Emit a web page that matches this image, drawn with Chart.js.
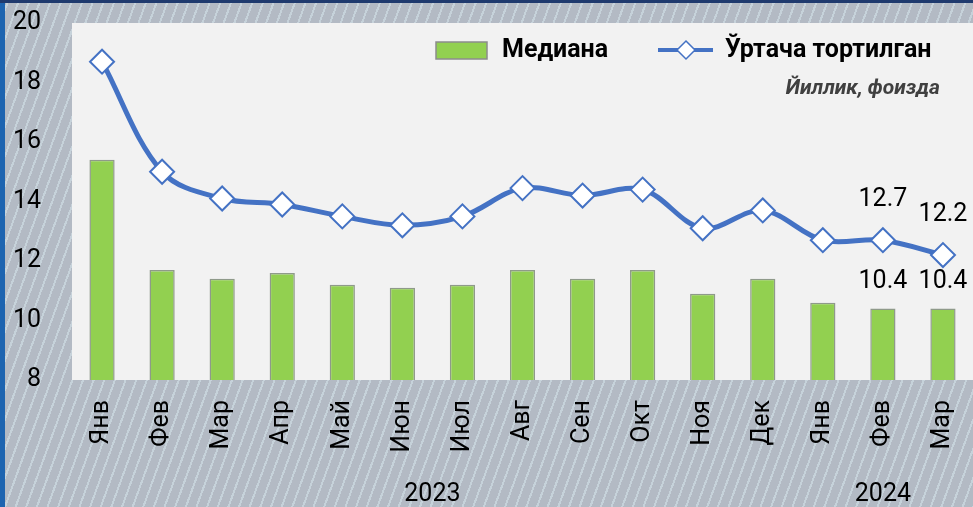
<!DOCTYPE html>
<html>
<head>
<meta charset="utf-8">
<script src="https://cdn.jsdelivr.net/npm/chart.js@4.4.1/dist/chart.umd.min.js"></script>
<style>
  html, body { margin: 0; padding: 0; }
  body {
    width: 973px; height: 507px; overflow: hidden; position: relative;
    background:
      linear-gradient(to bottom, #1f3a6e 0 3px, transparent 3px),
      linear-gradient(to right, #1d64b0 0 5px, transparent 5px),
      repeating-linear-gradient(110deg, #b3bac4 0 7px, #c6d2da 7px 9px, #b3bac4 9px 10px);
  }
  #wrap { position: absolute; left: 0; top: 0; width: 973px; height: 507px; }
</style>
</head>
<body>
<div id="wrap"><canvas id="c" width="973" height="507"></canvas></div>
<script>
const categories = ['Янв','Фев','Мар','Апр','Май','Июн','Июл','Авг','Сен','Окт','Ноя','Дек','Янв','Фев','Мар'];
const years = [
  { label: '2023', from: 0, to: 11 },
  { label: '2024', from: 12, to: 14 }
];
const medianValues = [15.4, 11.7, 11.4, 11.6, 11.2, 11.1, 11.2, 11.7, 11.4, 11.7, 10.9, 11.4, 10.6, 10.4, 10.4];
const weightedValues = [18.7, 15.0, 14.1, 13.9, 13.5, 13.2, 13.5, 14.45, 14.2, 14.4, 13.1, 13.7, 12.7, 12.7, 12.2];
const yTicks = { min: 8, max: 20, step: 2 };
const labeledIndexes = [13, 14];
const seriesNames = ['Медиана', 'Ўртача тортилган'];
const subtitle = 'Йиллик, фоизда';

const FONT = 'Roboto, "Liberation Sans", sans-serif';
const GREEN = '#92d050';
const BLUE = '#4472c4';

function zeroPad(s) { s.paddingLeft = 0; s.paddingRight = 0; s.paddingTop = 0; s.paddingBottom = 0; }

const plotBg = {
  id: 'plotBg',
  beforeDraw(chart) {
    const { ctx, chartArea: a } = chart;
    ctx.save();
    ctx.fillStyle = '#f2f2f2';
    ctx.fillRect(a.left, a.top, a.right - a.left, a.bottom - a.top);
    ctx.restore();
  }
};

const extras = {
  id: 'extras',
  afterDraw(chart) {
    const { ctx, chartArea: a } = chart;
    const xs = chart.scales.x;
    ctx.save();
    // year labels
    ctx.fillStyle = '#000';
    ctx.font = '25px ' + FONT;
    ctx.textAlign = 'center';
    ctx.textBaseline = 'middle';
    years.forEach(y => {
      const cx = (xs.getPixelForValue(y.from) + xs.getPixelForValue(y.to)) / 2;
      ctx.fillText(y.label, cx, 495);
    });
    // data labels
    const barMeta = chart.getDatasetMeta(0);
    const lineMeta = chart.getDatasetMeta(1);
    labeledIndexes.forEach(i => {
      const p = lineMeta.data[i];
      ctx.fillText(weightedValues[i].toFixed(1), p.x, p.y - 40);
      const b = barMeta.data[i];
      ctx.fillText(medianValues[i].toFixed(1), b.x, b.y - 27);
    });
    // legend
    const ly = a.top + 27;
    const lx = a.left + 364;
    ctx.fillStyle = GREEN;
    ctx.strokeStyle = '#8c8c8c';
    ctx.lineWidth = 1.5;
    ctx.fillRect(lx, ly - 8, 51, 17);
    ctx.strokeRect(lx, ly - 8, 51, 17);
    ctx.fillStyle = '#000';
    ctx.font = 'bold 25px ' + FONT;
    ctx.textAlign = 'left';
    ctx.fillText(seriesNames[0], lx + 66, ly + 1);
    const l2 = lx + 222;
    ctx.strokeStyle = BLUE;
    ctx.lineWidth = 4;
    ctx.beginPath();
    ctx.moveTo(l2, ly); ctx.lineTo(l2 + 55, ly);
    ctx.stroke();
    ctx.fillStyle = '#fff';
    ctx.lineWidth = 1.5;
    ctx.beginPath();
    const r = 9, dx = l2 + 28;
    ctx.moveTo(dx, ly - r); ctx.lineTo(dx + r, ly); ctx.lineTo(dx, ly + r); ctx.lineTo(dx - r, ly); ctx.closePath();
    ctx.fill(); ctx.stroke();
    ctx.fillStyle = '#000';
    ctx.fillText(seriesNames[1], l2 + 67, ly + 1);
    // subtitle
    ctx.fillStyle = '#404040';
    ctx.font = 'italic bold 21px ' + FONT;
    ctx.textAlign = 'right';
    ctx.fillText(subtitle, a.right - 33, ly + 39);
    ctx.restore();
  }
};

new Chart(document.getElementById('c'), {
  data: {
    labels: categories,
    datasets: [
      {
        type: 'bar',
        label: seriesNames[0],
        data: medianValues,
        backgroundColor: GREEN,
        borderColor: '#8f9a8a',
        borderWidth: 1.5,
        categoryPercentage: 1,
        barPercentage: 0.42,
        order: 2
      },
      {
        type: 'line',
        label: seriesNames[1],
        data: weightedValues,
        borderColor: BLUE,
        borderWidth: 5,
        tension: 0.35,
        pointStyle: 'rectRot',
        pointRadius: 12,
        pointHoverRadius: 12,
        pointBackgroundColor: '#ffffff',
        pointBorderColor: BLUE,
        pointBorderWidth: 2,
        clip: false,
        order: 1
      }
    ]
  },
  options: {
    responsive: false,
    animation: false,
    layout: { autoPadding: false, padding: { top: 23, left: 0, right: 0, bottom: 0 } },
    plugins: { legend: { display: false }, tooltip: { enabled: false } },
    scales: {
      x: {
        offset: true,
        grid: { display: false, drawTicks: false },
        border: { display: false },
        ticks: {
          color: '#000',
          font: { family: FONT, size: 25 },
          minRotation: 90,
          maxRotation: 90,
          padding: 20,
          autoSkip: false
        },
        afterFit(s) { s.height = 127; zeroPad(s); }
      },
      y: {
        min: yTicks.min,
        max: yTicks.max,
        grid: { display: false, drawTicks: false },
        border: { display: false },
        ticks: {
          stepSize: yTicks.step,
          color: '#000',
          font: { family: FONT, size: 25 },
          padding: 31
        },
        afterFit(s) { s.width = 72; zeroPad(s); }
      }
    }
  },
  plugins: [plotBg, extras]
});
</script>
</body>
</html>
